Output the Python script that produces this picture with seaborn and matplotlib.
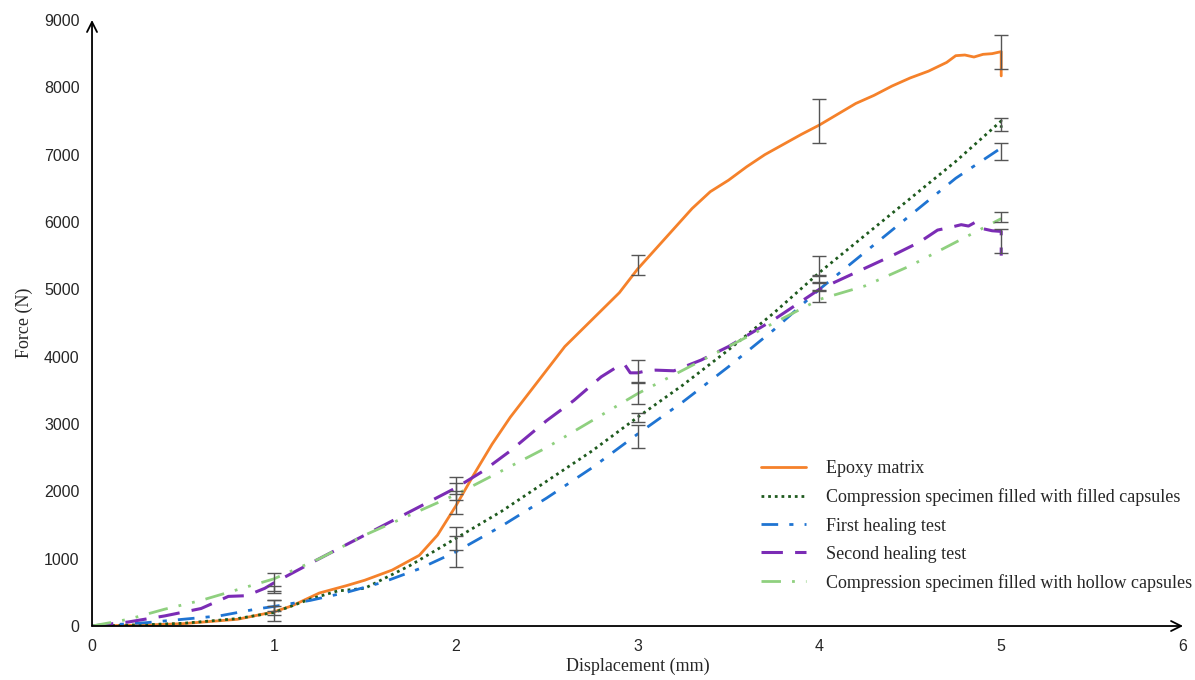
import numpy as np
import pandas as pd
import matplotlib
matplotlib.use('Agg')
import matplotlib.pyplot as plt
import seaborn as sns

# Epoxy matrix
epoxy_x = [0, 0.3, 0.5, 0.8, 1.0, 1.1, 1.25, 1.4, 1.5, 1.65, 1.8, 1.9, 2.0, 2.1, 2.2, 2.3, 2.4,
           2.5, 2.6, 2.75, 2.9, 3.0, 3.1, 3.2, 3.3, 3.4, 3.5, 3.6, 3.7, 3.8, 3.9, 4.0, 4.1,
           4.2, 4.3, 4.4, 4.5, 4.6, 4.7, 4.75, 4.8, 4.85, 4.9, 4.95, 5.0, 5.0]
epoxy_y = [0, 15, 35, 100, 210, 300, 490, 600, 680, 830, 1050, 1350, 1780, 2250, 2700, 3100, 3450,
           3800, 4150, 4550, 4950, 5300, 5600, 5900, 6200, 6450, 6620, 6820, 7000, 7150, 7300, 7440, 7600,
           7760, 7880, 8020, 8140, 8240, 8370, 8470, 8480, 8450, 8490, 8500, 8530, 8170]

# Compression specimen filled with filled capsules
filled_x = [0, 0.3, 0.5, 0.8, 1.0, 1.2, 1.35, 1.5, 1.75, 2.0, 2.25, 2.5, 2.75, 3.0, 3.25, 3.5,
            3.75, 4.0, 4.25, 4.5, 4.75, 5.0, 5.0]
filled_y = [0, 20, 40, 110, 200, 400, 520, 560, 900, 1300, 1700, 2150, 2600, 3100, 3580, 4100,
            4650, 5250, 5800, 6350, 6900, 7500, 7400]

# First healing test
first_x = [0, 0.3, 0.5, 0.7, 0.9, 1.0, 1.2, 1.4, 1.6, 1.8, 2.0, 2.25, 2.5, 2.75, 3.0, 3.25, 3.5,
           3.75, 4.0, 4.25, 4.5, 4.75, 5.0]
first_y = [0, 50, 100, 150, 250, 290, 380, 500, 650, 850, 1100, 1480, 1900, 2350, 2850, 3330, 3850,
           4400, 5000, 5550, 6100, 6650, 7100]

# Second healing test
second_x = [0, 0.2, 0.4, 0.6, 0.75, 0.85, 0.95, 1.0, 1.25, 1.5, 1.75, 2.0, 2.15, 2.3, 2.5, 2.65,
            2.8, 2.9, 2.93, 2.96, 3.0, 3.05, 3.1, 3.2, 3.35, 3.5, 3.75, 4.0, 4.2, 4.4, 4.55,
            4.65, 4.72, 4.78, 4.82, 4.86, 4.9, 4.95, 5.0, 5.0]
second_y = [0, 60, 150, 260, 440, 450, 560, 640, 1000, 1350, 1700, 2050, 2300, 2600, 3050, 3350,
            3700, 3870, 3880, 3760, 3760, 3790, 3800, 3790, 3950, 4150, 4550, 5000, 5250, 5500, 5700,
            5880, 5920, 5960, 5940, 6000, 5900, 5870, 5860, 5500]

# Compression specimen filled with hollow capsules
hollow_x = [0, 0.2, 0.4, 0.6, 0.8, 0.9, 1.0, 1.25, 1.5, 1.75, 2.0, 2.25, 2.5, 2.75, 3.0, 3.25,
            3.5, 3.75, 4.0, 4.25, 4.5, 4.75, 5.0]
hollow_y = [0, 100, 250, 380, 540, 620, 700, 1000, 1350, 1650, 1950, 2300, 2650, 3050, 3450, 3800,
            4150, 4500, 4850, 5050, 5350, 5700, 6050]

# error bars at x = 1..5
err_x = [1, 2, 3, 4, 5]
epoxy_mean = [230, 1830, 5360, 7500, 8520]
epoxy_err = [160, 170, 150, 320, 250]
filled_mean = [230, 1300, 3100, 5360, 7450]
filled_err = [60, 170, 70, 140, 100]
first_mean = [300, 1110, 2810, 5150, 7050]
first_err = [80, 230, 170, 50, 130]
second_mean = [640, 2040, 3780, 5050, 5720]
second_err = [150, 170, 170, 60, 180]
hollow_mean = [560, 2040, 3460, 4890, 6080]
hollow_err = [40, 80, 170, 80, 75]

labels = ['Epoxy matrix',
          'Compression specimen filled with filled capsules',
          'First healing test',
          'Second healing test',
          'Compression specimen filled with hollow capsules']

sns.set_style('white')
plt.rcParams['font.family'] = ['Liberation Serif', 'DejaVu Serif']

fig, ax = plt.subplots(figsize=(11.95, 6.8), dpi=100)
plt.subplots_adjust(left=0.077, right=0.99, bottom=0.0794, top=0.9706)

series = [
    (epoxy_x, epoxy_y, '#f5812a', '-', 2.0),
    (filled_x, filled_y, '#1e5a1e', (0, (1, 1.4)), 2.0),
    (first_x, first_y, '#1f74d2', (0, (6, 4, 1.5, 4)), 2.0),
    (second_x, second_y, '#7b2cb5', (0, (7, 4)), 2.2),
    (hollow_x, hollow_y, '#8fd07f', (0, (7, 4, 1, 4, 1, 4)), 2.0),
]
for (xs, ys, col, ls, lw), lab in zip(series, labels):
    sns.lineplot(x=xs, y=ys, ax=ax, color=col, linestyle=ls, linewidth=lw,
                 label=lab, estimator=None, sort=False)

for m, e in [(epoxy_mean, epoxy_err), (filled_mean, filled_err), (first_mean, first_err),
             (second_mean, second_err), (hollow_mean, hollow_err)]:
    ax.errorbar(err_x, m, yerr=e, fmt='none', ecolor='#555555', elinewidth=1.0,
                capsize=5, capthick=1.0, zorder=5)

ax.set_xlim(0, 6)
ax.set_ylim(0, 9000)
ax.set_xticks(range(0, 7))
ax.set_yticks(range(0, 9001, 1000))
for t in ax.get_xticklabels() + ax.get_yticklabels():
    t.set_family('Liberation Sans')
    t.set_fontsize(11.5)
ax.tick_params(length=0, pad=9)

for s in ax.spines.values():
    s.set_visible(False)
ax.annotate('', xy=(1.0, 0), xytext=(0, 0), xycoords='axes fraction',
            arrowprops=dict(arrowstyle='->', lw=1.3, color='black', shrinkA=0, shrinkB=0,
                            mutation_scale=18))
ax.annotate('', xy=(0, 1.0), xytext=(0, 0), xycoords='axes fraction',
            arrowprops=dict(arrowstyle='->', lw=1.3, color='black', shrinkA=0, shrinkB=0,
                            mutation_scale=18))

ax.set_xlabel('Displacement (mm)', fontsize=13, labelpad=3)
ax.set_ylabel('Force (N)', fontsize=13, labelpad=8)

ax.legend(loc='upper left', bbox_to_anchor=(745 / 1195, 1 - 444 / 680),
          bbox_transform=fig.transFigure, frameon=False, fontsize=13,
          handlelength=2.5, handletextpad=1.1, labelspacing=0.62)

plt.savefig('out.png', dpi=100)
